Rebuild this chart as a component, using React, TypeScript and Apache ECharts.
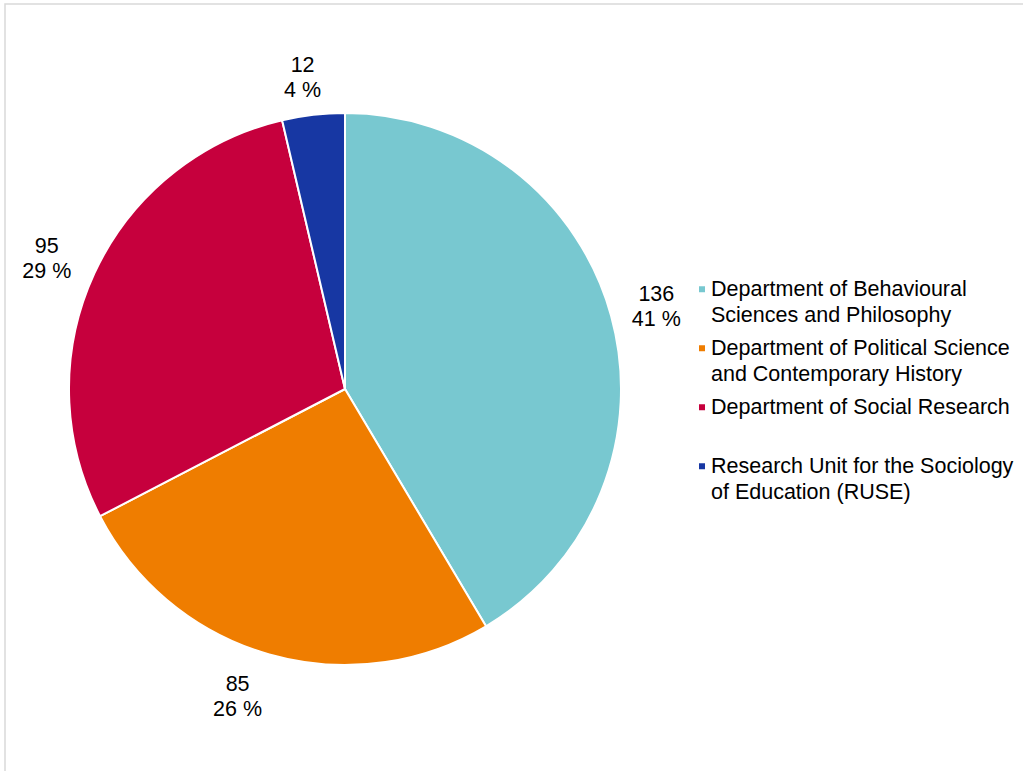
import React, { useEffect, useRef } from "react";
import * as echarts from "echarts";

const categories = [
  "Department of Behavioural\nSciences and Philosophy",
  "Department of Political Science\nand Contemporary History",
  "Department of Social Research",
  "Research Unit for the Sociology\nof Education (RUSE)",
];
const values = [136, 85, 95, 12];
const colors = ["#78C8D0", "#EF7D00", "#C6003D", "#1737A3"];

const FONT = "'Liberation Sans', Arial, sans-serif";
const FS = 21.5;
const LH = 25.5;
// fine adjustments of label placement (style only)
const labelOffsets = [
  [-3, 4],
  [-18, -6],
  [-2, 6],
  [-5, 12],
];

export default function App() {
  const ref = useRef<HTMLDivElement>(null);
  useEffect(() => {
    document.body.style.margin = "0";
    const chart = echarts.init(ref.current!, undefined, { renderer: "svg" });
    const data = categories.map((n, i) => ({
      name: n,
      value: values[i],
      itemStyle: { color: colors[i] },
    }));
    chart.setOption({
      animation: false,
      backgroundColor: "#fff",
      graphic: [
        {
          type: "rect",
          shape: { x: 5, y: 4, width: 1100, height: 900 },
          style: { fill: "none", stroke: "#d9d9d9", lineWidth: 1.5 },
          silent: true,
        },
      ],
      legend: {
        orient: "vertical",
        left: 697,
        top: 251,
        padding: 0,
        icon: "rect",
        itemWidth: 8,
        itemHeight: 8,
        itemGap: 59 - 3 * LH,
        selectedMode: false,
        textStyle: { fontFamily: FONT, fontSize: FS, color: "#000", lineHeight: LH },
        formatter: (name: string) => (name.includes("\n") ? "\n" + name : "\n" + name + "\n"),
        data: categories,
      },
      series: [
        {
          type: "pie",
          center: [345, 389],
          radius: [0, 276],
          startAngle: 90,
          clockwise: true,
          percentPrecision: 0,
          label: { show: false },
          labelLine: { show: false },
          itemStyle: { borderColor: "#fff", borderWidth: 2 },
          emphasis: { disabled: true },
          data,
        },
        {
          type: "pie",
          center: [345, 389],
          radius: [313, 333],
          startAngle: 90,
          clockwise: true,
          percentPrecision: 0,
          silent: true,
          labelLine: { show: false },
          itemStyle: { color: "rgba(0,0,0,0)" },
          emphasis: { disabled: true },
          label: {
            show: true,
            position: "inside",
            formatter: "{c}\n{d} %",
            fontFamily: FONT,
            fontSize: FS,
            lineHeight: 25,
            color: "#000",
            align: "center",
          },
          data: categories.map((n, i) => ({
            name: n,
            value: values[i],
            label: { offset: labelOffsets[i] },
          })),
        },
      ],
    });
    return () => chart.dispose();
  }, []);
  return <div ref={ref} style={{ width: 1023, height: 771 }} />;
}
